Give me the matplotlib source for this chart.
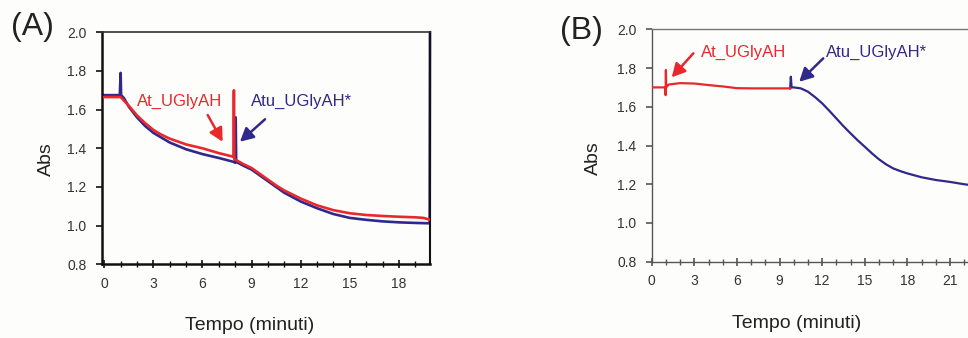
import matplotlib
matplotlib.use("Agg")
import matplotlib.pyplot as plt
from matplotlib.ticker import MultipleLocator

plt.rcParams['font.family'] = ['Liberation Sans', 'DejaVu Sans']

RED = "#e8282b"
BLUE = "#30288a"

# panel A: both enzymes added in turn, times in minutes
a_red_t = [0, 0.9, 1.0, 1.5, 2, 2.5, 3, 3.5, 4, 5, 6, 7, 7.9, 7.92, 7.94,
           8.5, 9, 9.5, 10, 10.5, 11, 12, 13, 14, 15, 16, 17, 18, 19, 19.5, 19.9]
a_red_abs = [1.665, 1.665, 1.665, 1.62, 1.57, 1.53, 1.495, 1.47, 1.45, 1.42,
             1.40, 1.375, 1.356, 1.70, 1.345, 1.318, 1.298, 1.268, 1.238,
             1.208, 1.182, 1.14, 1.105, 1.08, 1.064, 1.055, 1.05, 1.046,
             1.043, 1.04, 1.03]

a_blue_t = [0, 0.95, 1.0, 1.03, 1.2, 1.5, 2, 2.5, 3, 3.5, 4, 5, 6, 7, 7.9,
            8.0, 8.03, 8.06, 8.5, 9, 9.5, 10, 10.5, 11, 12, 13, 14, 15, 16,
            17, 18, 19, 19.88, 19.9]
a_blue_abs = [1.675, 1.675, 1.79, 1.675, 1.66, 1.615, 1.56, 1.515, 1.48,
              1.455, 1.43, 1.395, 1.37, 1.35, 1.33, 1.325, 1.56, 1.33, 1.31,
              1.29, 1.26, 1.23, 1.2, 1.17, 1.125, 1.09, 1.06, 1.04, 1.03,
              1.022, 1.017, 1.014, 1.012, 2.0]

# panel B
b_red_t = [0, 0.95, 0.98, 1.0, 1.02, 1.2, 2, 3, 4, 5, 6, 7, 8, 9, 9.75]
b_red_abs = [1.70, 1.70, 1.66, 1.79, 1.70, 1.715, 1.722, 1.72, 1.712, 1.705,
             1.696, 1.695, 1.695, 1.695, 1.695]

b_blue_t = [9.75, 9.8, 9.85, 10, 10.5, 11, 11.5, 12, 12.5, 13, 13.5, 14,
            14.5, 15, 15.5, 16, 16.5, 17, 17.5, 18, 19, 20, 21, 22, 23, 24]
b_blue_abs = [1.695, 1.755, 1.70, 1.70, 1.695, 1.678, 1.65, 1.618, 1.58,
              1.54, 1.50, 1.463, 1.427, 1.394, 1.36, 1.329, 1.303, 1.282,
              1.268, 1.256, 1.236, 1.222, 1.212, 1.20, 1.19, 1.185]

x_ticks_a = [0, 3, 6, 9, 12, 15, 18]
x_ticks_b = [0, 3, 6, 9, 12, 15, 18, 21]
y_ticks = [0.8, 1.0, 1.2, 1.4, 1.6, 1.8, 2.0]

W, H = 968, 338
fig = plt.figure(figsize=(W / 100, H / 100), dpi=100, facecolor="#fdfdfb")


def px_axes(left, top, right, bottom):
    return fig.add_axes([left / W, 1 - bottom / H, (right - left) / W,
                         (bottom - top) / H])


def style_axes(ax, spine_color, spine_lw, xticks):
    ax.set_facecolor("#fdfdfb")
    ax.set_ylim(0.8, 2.0)
    ax.set_yticks(y_ticks)
    ax.set_yticklabels([f"{v:.1f}" for v in y_ticks])
    ax.set_xticks(xticks)
    ax.xaxis.set_minor_locator(MultipleLocator(1))
    ax.tick_params(axis="x", which="major", direction="inout", length=6,
                   width=1.2, pad=6, labelsize=10, labelcolor="#333333",
                   color=spine_color)
    ax.tick_params(axis="x", which="minor", direction="inout", length=4,
                   width=1, color=spine_color)
    ax.tick_params(axis="y", direction="out", length=4, width=1.2, pad=7,
                   labelsize=10, labelcolor="#333333", color=spine_color)
    for s in ["left", "bottom"]:
        ax.spines[s].set_color(spine_color)
        ax.spines[s].set_linewidth(spine_lw)


# ---- panel A ----
axa = px_axes(101.8, 32.3, 430, 264.3)
style_axes(axa, "#111111", 1.8, x_ticks_a)
axa.set_xlim(-0.15, 19.9)
axa.spines["top"].set_color("#333333")
axa.spines["top"].set_linewidth(1.2)
axa.spines["right"].set_color("#111111")
axa.spines["right"].set_linewidth(1.5)
axa.plot(a_red_t, a_red_abs, color=RED, lw=1.9, zorder=3)
axa.plot(a_blue_t, a_blue_abs, color=BLUE, lw=1.9, zorder=2, clip_on=False)

arrow = dict(arrowstyle="-|>,head_length=0.8,head_width=0.42", lw=1.8,
             shrinkA=0, shrinkB=0)
axa.text(4.62, 1.641, "At_UGlyAH", color=RED, fontsize=12,
         ha="center", va="center")
axa.annotate("", xy=(7.23, 1.434), xytext=(6.32, 1.572),
             arrowprops=dict(arrow, color=RED))
axa.text(12.06, 1.641, "Atu_UGlyAH*", color=BLUE, fontsize=12,
         ha="center", va="center")
axa.annotate("", xy=(8.29, 1.434), xytext=(9.82, 1.55),
             arrowprops=dict(arrow, color=BLUE))

# ---- panel B ----
axb = px_axes(651.7, 29.3, 651.7 + 24.2 * 14.2, 261.7)
style_axes(axb, "#555555", 1.0, x_ticks_b)
axb.set_xlim(0, 24.2)
axb.spines["top"].set_color("#777777")
axb.spines["top"].set_linewidth(1.0)
axb.spines["right"].set_visible(False)
axb.plot(b_red_t, b_red_abs, color=RED, lw=1.6, zorder=3)
axb.plot(b_blue_t, b_blue_abs, color=BLUE, lw=1.6, zorder=2)

axb.text(6.45, 1.879, "At_UGlyAH", color=RED, fontsize=12,
         ha="center", va="center")
axb.annotate("", xy=(1.41, 1.752), xytext=(2.93, 1.876),
             arrowprops=dict(arrow, color=RED))
axb.text(15.85, 1.879, "Atu_UGlyAH*", color=BLUE, fontsize=12,
         ha="center", va="center")
axb.annotate("", xy=(10.39, 1.729), xytext=(12.08, 1.85),
             arrowprops=dict(arrow, color=BLUE))

# panel letters and axis titles
for x, y, s in [(32.5, 27, "(A)"), (581.7, 31, "(B)")]:
    fig.text(x / W, 1 - y / H, s, fontsize=23, ha="center", va="center",
             color="#222222")
for x, y in [(46.7, 159), (593.3, 158)]:
    fig.text(x / W, 1 - y / H, "Abs", fontsize=14, rotation=90,
             ha="center", va="center", color="#222222")
for x, y in [(250, 325), (796.7, 324)]:
    fig.text(x / W, 1 - y / H, "Tempo (minuti)", fontsize=14,
             ha="center", va="center", color="#222222")

fig.savefig("out.png", dpi=100, facecolor=fig.get_facecolor())
